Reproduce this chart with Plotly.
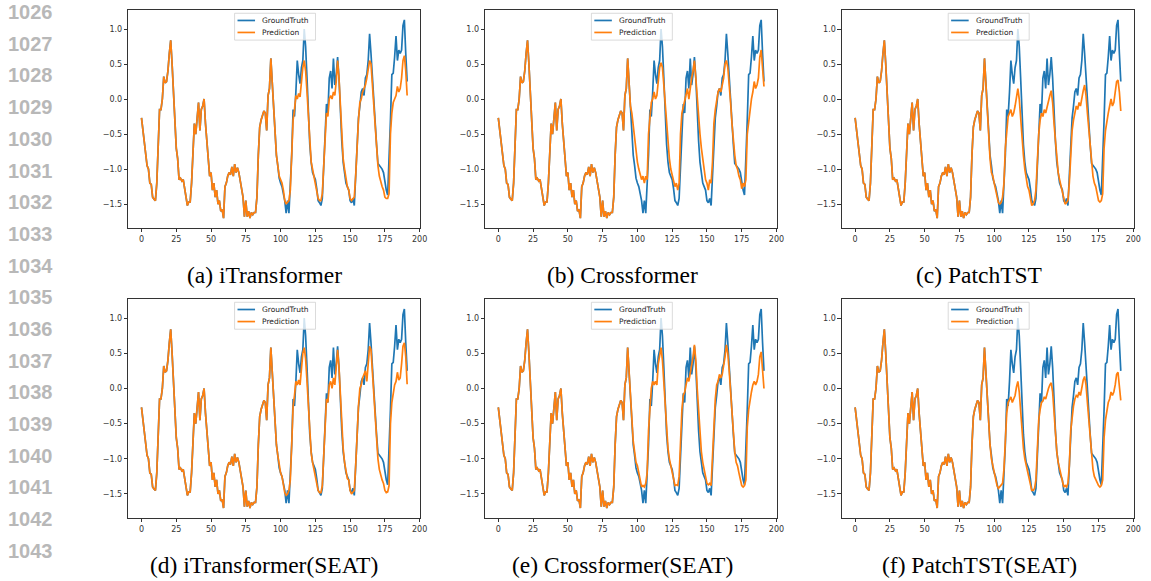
import plotly.graph_objects as go

W, H = 1151, 581

# ---------------- data ----------------
history = [
    -0.27, -0.45, -0.65, -0.8, -0.95, -1.0, -1.2, -1.22, -1.4, -1.43,
    -1.45, -1.2, -0.7, -0.15, -0.15, 0.0, 0.32, 0.23, 0.25, 0.4,
    0.65, 0.84, 0.5, 0.1, -0.3, -0.7, -0.85, -1.15, -1.13, -1.17,
    -1.15, -1.3, -1.4, -1.52, -1.47, -1.47, -1.2, -0.8, -0.35, -0.5,
    -0.3, -0.05, -0.45, -0.15, -0.1, 0.0, -0.35, -0.6, -0.85, -1.1,
    -1.05, -1.3, -1.2, -1.4, -1.3, -1.5, -1.45, -1.6, -1.58, -1.7,
    -1.25, -1.2, -1.1, -1.05, -1.08, -0.97, -1.1, -0.93, -1.05, -0.98,
    -1.05, -1.15, -1.3, -1.4, -1.68, -1.45, -1.68, -1.6, -1.7, -1.62,
    -1.65, -1.62, -1.62, -1.4, -0.8, -0.4, -0.3, -0.22, -0.17, -0.2,
    -0.45, 0.05, 0.15, 0.58, 0.2, -0.1,
]

truth_future = [
    -0.5, -0.8, -0.95, -1.13, -1.2, -1.25, -1.35, -1.45, -1.63, -1.45,
    -1.63, -1.3, -0.8, -0.15, -0.25, 0.1, 0.55, 0.35, 0.22, 0.45,
    0.55, 1.0, 0.75, 0.3, -0.3, -0.65, -0.9, -1.05, -1.1, -1.15,
    -1.28, -1.45, -1.48, -1.52, -1.42, -0.9, -0.5, -0.07, -0.2, 0.3,
    0.4, 0.15, 0.58, 0.2, 0.35, 0.6, 0.3, -0.2, -0.6, -0.9,
    -1.05, -1.2, -1.25, -1.3, -1.45, -1.48, -1.42, -1.52, -1.1, -0.55,
    -0.27, -0.1, 0.1, 0.15, 0.05, 0.3, 0.35, 0.55, 0.93, 0.65,
    0.3, -0.1, -0.3, -0.65, -0.92, -0.95, -0.97, -1.0, -1.05, -1.2,
    -1.3, -1.37, -0.9, -0.3, 0.35, 0.37, 0.6, 0.9, 0.55, 0.7,
    0.65, 0.7, 1.05, 1.13, 0.65, 0.25,
]

pred_itransformer = [
    -0.5, -0.8, -0.95, -1.1, -1.15, -1.2, -1.3, -1.45, -1.5, -1.48,
    -1.45, -1.3, -0.8, -0.3, -0.15, 0.05, 0.0, 0.08, 0.03, 0.3,
    0.45, 0.55, 0.4, 0.1, -0.3, -0.65, -0.9, -1.0, -1.1, -1.2,
    -1.3, -1.42, -1.45, -1.45, -1.35, -0.9, -0.5, -0.2, -0.25, 0.0,
    0.05, 0.0, 0.1, 0.05, 0.25, 0.55, 0.3, -0.15, -0.55, -0.85,
    -1.0, -1.15, -1.25, -1.3, -1.42, -1.45, -1.42, -1.4, -1.1, -0.6,
    -0.3, -0.05, 0.0, 0.1, 0.15, 0.2, 0.3, 0.4, 0.55, 0.5,
    0.2, -0.1, -0.4, -0.7, -0.95, -1.1, -1.2, -1.25, -1.3, -1.4,
    -1.42, -1.42, -1.35, -0.5, -0.2, -0.05, 0.0, 0.05, 0.18, 0.1,
    0.15, 0.3, 0.55, 0.62, 0.4, 0.05,
]

pred_crossformer = [
    -0.2, -0.4, -0.55, -0.75, -0.9, -1.0, -1.1, -1.15, -1.1, -1.2,
    -1.1, -1.15, -0.5, -0.2, -0.05, 0.0, 0.1, 0.0, 0.05, 0.25,
    0.45, 0.52, 0.45, 0.2, -0.1, -0.4, -0.6, -0.85, -1.0, -1.1,
    -1.2, -1.25, -1.2, -1.3, -1.2, -0.5, -0.2, -0.1, -0.05, 0.05,
    0.15, 0.0, 0.2, 0.3, 0.4, 0.55, 0.3, 0.0, -0.25, -0.5,
    -0.7, -0.85, -1.0, -1.15, -1.2, -1.3, -1.15, -1.2, -0.9, -0.35,
    -0.15, 0.0, 0.1, 0.15, 0.1, 0.2, 0.3, 0.5, 0.55, 0.45,
    0.25, -0.05, -0.35, -0.6, -0.8, -0.95, -1.0, -1.1, -1.15, -1.28,
    -1.2, -1.25, -1.15, -0.5, -0.3, -0.1, 0.0, 0.1, 0.25, 0.15,
    0.2, 0.3, 0.6, 0.7, 0.45, 0.18,
]

pred_patchtst = [
    -0.6, -0.85, -1.05, -1.1, -1.2, -1.3, -1.4, -1.48, -1.5, -1.48,
    -1.4, -1.2, -0.7, -0.4, -0.25, -0.2, -0.15, -0.25, -0.2, -0.1,
    0.05, 0.15, 0.0, -0.3, -0.6, -0.8, -1.0, -1.15, -1.25, -1.3,
    -1.4, -1.52, -1.5, -1.45, -1.3, -0.8, -0.5, -0.3, -0.2, -0.25,
    -0.15, -0.2, -0.1, -0.05, 0.05, 0.12, -0.05, -0.35, -0.6, -0.9,
    -1.05, -1.15, -1.25, -1.35, -1.45, -1.5, -1.48, -1.45, -1.2, -0.7,
    -0.45, -0.3, -0.2, -0.1, -0.15, -0.05, -0.1, 0.05, 0.12, 0.2,
    0.05, -0.2, -0.45, -0.7, -0.95, -1.1, -1.2, -1.25, -1.35, -1.45,
    -1.47, -1.45, -1.35, -0.7, -0.45, -0.3, -0.2, -0.1, 0.0, -0.1,
    -0.05, 0.1, 0.25, 0.27, 0.1, -0.17,
]

pred_itransformer_seat = [
    -0.5, -0.8, -0.95, -1.12, -1.2, -1.25, -1.35, -1.48, -1.52, -1.5,
    -1.45, -1.3, -0.8, -0.25, -0.1, 0.1, 0.05, 0.12, 0.05, 0.3,
    0.5, 0.58, 0.42, 0.1, -0.3, -0.65, -0.92, -1.05, -1.15, -1.2,
    -1.3, -1.45, -1.48, -1.48, -1.38, -0.9, -0.5, -0.15, -0.2, 0.05,
    0.1, 0.0, 0.15, 0.05, 0.3, 0.55, 0.3, -0.15, -0.55, -0.85,
    -1.05, -1.2, -1.28, -1.3, -1.45, -1.5, -1.48, -1.45, -1.1, -0.6,
    -0.25, 0.0, 0.05, 0.15, 0.2, 0.25, 0.1, 0.4, 0.6, 0.55,
    0.25, -0.1, -0.4, -0.75, -1.0, -1.15, -1.25, -1.3, -1.35, -1.45,
    -1.48, -1.47, -1.38, -0.5, -0.2, -0.05, 0.05, 0.1, 0.23, 0.12,
    0.15, 0.35, 0.6, 0.65, 0.45, 0.06,
]

pred_crossformer_seat = [
    -0.5, -0.75, -0.9, -1.05, -1.1, -1.2, -1.3, -1.4, -1.38, -1.4,
    -1.35, -1.2, -0.6, -0.2, 0.0, 0.1, 0.05, 0.1, 0.05, 0.35,
    0.5, 0.58, 0.4, 0.05, -0.3, -0.6, -0.85, -1.0, -1.1, -1.2,
    -1.3, -1.38, -1.37, -1.38, -1.25, -0.7, -0.3, -0.1, -0.05, 0.05,
    0.15, 0.1, 0.2, 0.3, 0.45, 0.62, 0.4, 0.0, -0.35, -0.7,
    -0.9, -1.05, -1.15, -1.25, -1.35, -1.37, -1.35, -1.38, -1.0, -0.45,
    -0.15, 0.05, 0.1, 0.2, 0.15, 0.2, 0.3, 0.45, 0.62, 0.5,
    0.25, -0.05, -0.35, -0.65, -0.9, -1.05, -1.1, -1.2, -1.28, -1.38,
    -1.4, -1.38, -1.3, -0.55, -0.3, -0.15, -0.05, 0.05, 0.1, 0.05,
    0.1, 0.2, 0.45, 0.52, 0.3, 0.0,
]

pred_patchtst_seat = [
    -0.55, -0.8, -1.0, -1.1, -1.2, -1.28, -1.38, -1.42, -1.4, -1.38,
    -1.35, -1.15, -0.65, -0.35, -0.2, -0.15, -0.12, -0.2, -0.15, -0.1,
    0.02, 0.1, -0.05, -0.35, -0.65, -0.85, -1.0, -1.1, -1.2, -1.3,
    -1.4, -1.45, -1.45, -1.42, -1.3, -0.8, -0.45, -0.3, -0.2, -0.18,
    -0.12, -0.15, -0.05, 0.0, 0.05, 0.08, -0.05, -0.35, -0.65, -0.9,
    -1.05, -1.15, -1.25, -1.3, -1.4, -1.38, -1.4, -1.35, -1.1, -0.6,
    -0.4, -0.25, -0.15, -0.1, -0.12, -0.05, -0.1, 0.05, 0.12, 0.17,
    0.05, -0.2, -0.45, -0.75, -1.0, -1.15, -1.25, -1.3, -1.35, -1.38,
    -1.4, -1.38, -1.3, -0.7, -0.45, -0.3, -0.2, -0.15, -0.05, -0.1,
    -0.05, 0.05, 0.2, 0.23, 0.05, -0.17,
]

captions = ["(a) iTransformer", "(b) Crossformer", "(c) PatchTST",
            "(d) iTransformer(SEAT)", "(e) Crossformer(SEAT)", "(f) PatchTST(SEAT)"]
predictions = [pred_itransformer, pred_crossformer, pred_patchtst,
               pred_itransformer_seat, pred_crossformer_seat, pred_patchtst_seat]
series_names = ["GroundTruth", "Prediction"]
line_numbers = list(range(1026, 1044))

x_tick_vals = [0, 25, 50, 75, 100, 125, 150, 175, 200]
y_tick_vals = [-1.5, -1.0, -0.5, 0.0, 0.5, 1.0]
y_tick_text = ["\u22121.5", "\u22121.0", "\u22120.5", "0.0", "0.5", "1.0"]

# ---------------- layout ----------------
BLUE = "#1f77b4"
ORANGE = "#ff7f0e"

col_px = [(129, 423), (488, 782), (847, 1141)]
row_px = [(10, 228), (299, 518)]
cap_x_px = [266, 626, 985]
cap_y_px = [275, 565]

fig = go.Figure()
truth_full = history + truth_future
xs = list(range(len(truth_full)))

shapes = []
annotations = []
layout_axes = {}

for k in range(6):
    r, c = divmod(k, 3)
    idx = k + 1
    xa = "x" if idx == 1 else f"x{idx}"
    ya = "y" if idx == 1 else f"y{idx}"
    xname = "xaxis" if idx == 1 else f"xaxis{idx}"
    yname = "yaxis" if idx == 1 else f"yaxis{idx}"
    pred_full = history + predictions[k]
    fig.add_trace(go.Scatter(x=xs, y=truth_full, mode="lines", name=series_names[0],
                             line=dict(color=BLUE, width=1.7), xaxis=xa, yaxis=ya,
                             showlegend=False))
    fig.add_trace(go.Scatter(x=xs, y=pred_full, mode="lines", name=series_names[1],
                             line=dict(color=ORANGE, width=1.7), xaxis=xa, yaxis=ya,
                             showlegend=False))
    allv = truth_full + pred_full
    lo, hi = min(allv), max(allv)
    m = 0.05 * (hi - lo)
    xm = 0.05 * (len(xs) - 1)
    x0, x1 = col_px[c]
    y0, y1 = row_px[r]
    axis_common = dict(showgrid=False, zeroline=False, showline=True, mirror=True,
                       linecolor="#333333", linewidth=0.8, ticks="outside",
                       ticklen=3.5, tickwidth=0.8, tickcolor="#333333",
                       tickfont=dict(family="DejaVu Sans", size=8, color="#333333"))
    layout_axes[xname] = dict(domain=[x0 / W, x1 / W], anchor=ya,
                              range=[-xm, len(xs) - 1 + xm],
                              tickmode="array", tickvals=x_tick_vals, **axis_common)
    layout_axes[yname] = dict(domain=[1 - y1 / H, 1 - y0 / H], anchor=xa,
                              range=[lo - m, hi + m],
                              tickmode="array", tickvals=y_tick_vals, ticktext=y_tick_text,
                              **axis_common)
    # legend box (manual, matplotlib style)
    xr = f"{xa} domain"
    yr = f"{ya} domain"
    shapes.append(dict(type="rect", xref=xr, yref=yr, x0=0.364, x1=0.641, y0=0.862, y1=0.985,
                       line=dict(color="#d0d0d0", width=0.8), fillcolor="rgba(255,255,255,0.8)",
                       layer="above"))
    for j, (col, yy) in enumerate([(BLUE, 0.952), (ORANGE, 0.897)]):
        shapes.append(dict(type="line", xref=xr, yref=yr, x0=0.374, x1=0.434, y0=yy, y1=yy,
                           line=dict(color=col, width=1.7), layer="above"))
        annotations.append(dict(xref=xr, yref=yr, x=0.452, y=yy, text=series_names[j],
                                showarrow=False, xanchor="left", yanchor="middle",
                                font=dict(family="DejaVu Sans", size=7.5, color="#222222")))
    annotations.append(dict(xref="paper", yref="paper", x=cap_x_px[c] / W,
                            y=1 - cap_y_px[r] / H, text=captions[k], showarrow=False,
                            xanchor="center", yanchor="middle",
                            font=dict(family="Liberation Serif", size=23.5, color="#000000")))

# line numbers at left margin
for i, n in enumerate(line_numbers):
    ypx = 12 + i * 31.7
    annotations.append(dict(xref="paper", yref="paper", x=6 / W, y=1 - ypx / H,
                            text=f"<b>{n}</b>", showarrow=False, xanchor="left",
                            yanchor="middle",
                            font=dict(family="Liberation Sans", size=20, color="#b8b8b8")))

fig.update_layout(width=W, height=H, margin=dict(l=0, r=0, t=0, b=0),
                  paper_bgcolor="white", plot_bgcolor="white",
                  shapes=shapes, annotations=annotations, showlegend=False,
                  **layout_axes)

fig.write_html("out.html")
